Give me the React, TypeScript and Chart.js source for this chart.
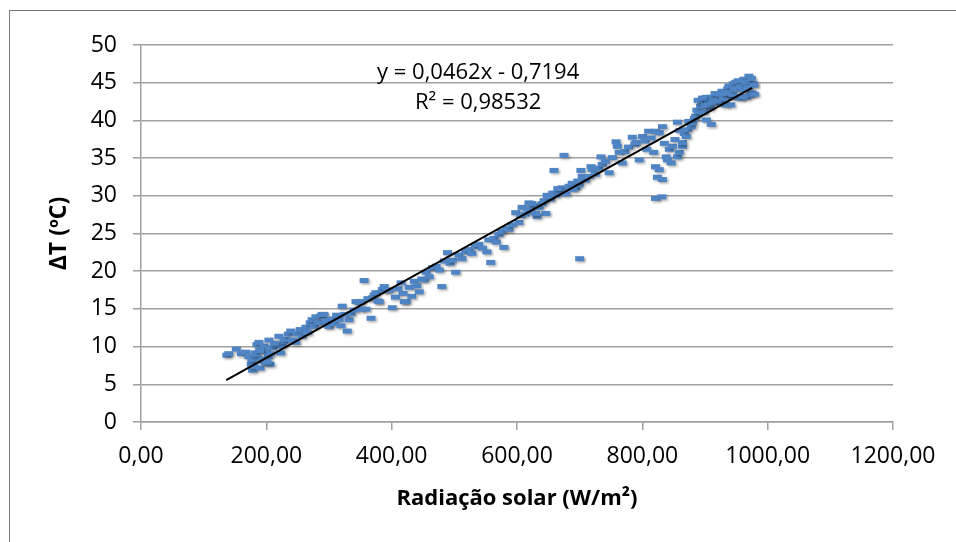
import React, { useEffect, useRef } from "react";
import { Chart, registerables } from "chart.js";

Chart.register(...registerables);

// Radiação solar (W/m²)
const radX = [
  137, 140, 152, 160, 167, 172, 176, 177, 178, 180, 182, 185, 186, 188, 190, 192, 194, 196, 199, 200,
  203, 204, 206, 210, 215, 220, 223, 225, 228, 231, 235, 239, 242, 247, 250, 254, 257, 260, 263, 266,
  270, 273, 276, 279, 282, 284, 287, 289, 292, 295, 298, 300, 304, 308, 312, 316, 319, 321, 325, 329,
  332, 335, 340, 343, 348, 351, 351, 356, 359, 362, 367, 369, 372, 375, 378, 380, 385, 388, 392, 396,
  401, 406, 410, 415, 418, 420, 423, 428, 432, 436, 440, 444, 448, 452, 455, 460, 465, 471, 476, 480,
  484, 489, 493, 497, 502, 507, 512, 518, 523, 528, 533, 539, 545, 552, 555, 558, 563, 567, 571, 575,
  579, 583, 587, 592, 598, 603, 606, 608, 613, 619, 622, 627, 632, 635, 640, 646, 648, 653, 657, 659,
  662, 667, 672, 675, 678, 683, 688, 694, 699, 700, 702, 704, 709, 715, 718, 720, 725, 730, 734, 736,
  741, 747, 752, 758, 760, 763, 768, 772, 778, 784, 788, 790, 795, 800, 804, 807, 810, 814, 818, 821,
  821, 824, 821, 827, 827, 831, 832, 832, 835, 838, 840, 843, 846, 848, 852, 856, 856, 859, 860, 864,
  864, 867, 870, 872, 874, 878, 880, 883, 885, 887, 890, 893, 895, 898, 902, 902, 905, 908, 910, 911,
  914, 918, 922, 925, 927, 930, 933, 936, 938, 941, 943, 945, 949, 951, 954, 957, 959, 962, 964, 966,
  968, 970, 972, 975, 977, 979, 889, 896, 900, 906, 912, 916, 920, 924, 929, 934, 939, 944, 947, 953,
  956, 960, 965, 969, 974, 978, 183, 189, 195, 201, 207, 213, 617, 624, 630, 643, 651, 665, 689, 697,
];

// ΔT (ºC)
const deltaT = [
  8.8, 9.0, 9.6, 9.0, 9.2, 8.6, 7.6, 8.2, 6.8, 7.3, 9.1, 10.2, 8.4, 10.5, 7.1, 9.5, 8.0, 10.0, 7.8, 9.3,
  8.6, 10.8, 7.6, 9.8, 10.2, 11.3, 9.1, 10.0, 10.6, 10.9, 11.6, 12.0, 10.8, 10.5, 11.6, 12.2, 11.3, 12.0, 12.5, 11.8,
  13.1, 13.5, 12.6, 13.9, 13.2, 13.1, 14.0, 14.2, 14.2, 13.4, 12.8, 12.6, 13.6, 13.0, 14.1, 13.5, 12.7, 15.3, 14.2, 12.0,
  13.5, 14.3, 14.8, 15.9, 15.8, 14.9, 15.9, 18.7, 14.9, 16.3, 13.7, 16.4, 16.8, 17.1, 16.0, 15.9, 17.5, 17.9, 17.4, 17.4,
  15.1, 16.5, 17.6, 18.4, 17.0, 15.9, 15.9, 17.8, 16.6, 18.6, 18.0, 17.2, 18.9, 18.8, 19.8, 19.2, 20.4, 20.6, 20.1, 17.9,
  21.3, 22.4, 21.0, 21.4, 19.8, 22.1, 21.6, 22.5, 22.8, 22.3, 23.2, 23.5, 23.0, 22.5, 24.1, 21.1, 24.3, 23.8, 24.8, 25.2,
  23.1, 25.6, 25.5, 26.1, 27.7, 26.4, 27.3, 28.4, 27.5, 29.0, 27.9, 28.6, 27.2, 28.4, 28.9, 27.6, 30.0, 29.5, 30.3, 33.3,
  30.0, 30.4, 31.0, 35.3, 30.2, 31.2, 31.6, 31.0, 31.4, 21.6, 33.3, 32.5, 32.0, 32.5, 33.8, 33.4, 32.8, 33.6, 35.1, 34.1,
  34.5, 33.0, 35.0, 37.1, 36.5, 35.7, 34.3, 35.8, 36.4, 37.7, 36.8, 37.0, 34.7, 37.8, 37.2, 36.1, 38.5, 37.6, 35.7, 38.5,
  33.8, 32.4, 29.6, 33.4, 38.3, 29.8, 32.1, 39.1, 36.9, 35.1, 34.7, 36.1, 34.3, 36.5, 37.4, 35.1, 39.7, 35.7, 38.6, 36.5,
  37.0, 38.2, 37.8, 38.7, 39.8, 39.1, 39.6, 40.2, 40.5, 41.3, 41.1, 41.8, 42.3, 41.0, 40.0, 43.0, 42.5, 41.6, 39.4, 43.0,
  42.4, 42.8, 43.1, 42.2, 43.8, 43.2, 42.0, 44.1, 44.5, 42.0, 43.0, 44.8, 45.0, 43.1, 44.2, 42.9, 43.1, 45.4, 44.6, 43.0,
  45.1, 45.8, 43.3, 43.6, 44.8, 43.4, 42.6, 42.9, 41.9, 42.0, 42.3, 43.5, 42.5, 43.4, 42.8, 43.5, 43.6, 43.4, 44.1, 45.2,
  44.4, 44.0, 45.0, 44.3, 45.5, 44.6, 8.9, 9.4, 8.3, 7.9, 9.0, 10.4, 28.2, 28.9, 27.6, 29.3, 29.8, 30.9, 30.8, 31.9,
];

// Linear trendline end points (y = 0,0462x - 0,7194)
const trendX = [136, 975];
const trendY = [5.56, 44.32];

const equationText = "y = 0,0462x - 0,7194";
const r2Text = "R² = 0,98532";
const xTitle = "Radiação solar (W/m²)";
const yTitle = "ΔT (ºC)";

const FONT = "'Open Sans', 'Liberation Sans', sans-serif";

function makeMarker(): HTMLCanvasElement {
  const c = document.createElement("canvas");
  c.width = 15;
  c.height = 12;
  const ctx = c.getContext("2d")!;
  ctx.shadowColor = "rgba(0,0,0,0.35)";
  ctx.shadowBlur = 2.5;
  ctx.shadowOffsetX = 1.5;
  ctx.shadowOffsetY = 1.5;
  ctx.fillStyle = "#4f85c4";
  ctx.fillRect(3, 3, 9, 5);
  return c;
}

export default function App() {
  const ref = useRef<HTMLCanvasElement | null>(null);

  useEffect(() => {
    document.body.style.overflow = "hidden";
    document.documentElement.style.overflow = "hidden";
    const canvas = ref.current!;
    const marker = makeMarker();

    const labelsPlugin = {
      id: "eqLabels",
      afterDatasetsDraw(chart: any) {
        const { ctx, scales } = chart;
        const x = scales.x.getPixelForValue(538);
        ctx.save();
        ctx.fillStyle = "#000";
        ctx.font = `22px ${FONT}`;
        ctx.textAlign = "center";
        ctx.textBaseline = "middle";
        ctx.fillText(equationText, x, scales.y.getPixelForValue(46.3));
        ctx.fillText(r2Text, x, scales.y.getPixelForValue(42.3));
        ctx.restore();
      },
    };

    const chart = new Chart(canvas, {
      type: "scatter",
      data: {
        datasets: [
          {
            label: "Linear",
            data: trendX.map((x, i) => ({ x, y: trendY[i] })),
            showLine: true,
            borderColor: "#000",
            borderWidth: 2,
            pointRadius: 0,
            order: 0,
          },
          {
            label: "ΔT",
            data: radX.map((x, i) => ({ x, y: deltaT[i] })),
            pointStyle: marker as any,
            pointRadius: 4,
            backgroundColor: "#4f85c4",
            borderWidth: 0,
            order: 1,
          },
        ],
      },
      options: {
        animation: false,
        responsive: false,
        layout: { padding: { left: 0, right: 62, top: 34, bottom: 0 } },
        plugins: {
          legend: { display: false },
          tooltip: { enabled: false },
        },
        scales: {
          x: {
            type: "linear",
            min: 0,
            max: 1200,
            afterFit(scale: any) {
              scale.height = 120;
            },
            ticks: {
              stepSize: 200,
              padding: 13,
              color: "#000",
              font: { family: FONT, size: 23 },
              callback: (v: any) => Number(v).toFixed(2).replace(".", ","),
            },
            grid: {
              drawOnChartArea: false,
              drawTicks: true,
              tickLength: 8,
              color: "#a0a0a0",
              lineWidth: 1.5,
            },
            border: { color: "#a0a0a0", width: 1.5 },
            title: {
              display: true,
              text: xTitle,
              color: "#000",
              font: { family: FONT, size: 22, weight: "bold" },
              padding: { top: 0, bottom: 30 },
            },
          },
          y: {
            min: 0,
            max: 50,
            afterFit(scale: any) {
              scale.width = 131;
            },
            ticks: {
              stepSize: 5,
              padding: 16,
              color: "#000",
              font: { family: FONT, size: 23 },
            },
            grid: {
              drawTicks: true,
              tickLength: 8,
              color: "#a0a0a0",
              lineWidth: 1.5,
            },
            border: { color: "#a0a0a0", width: 1.5 },
            title: {
              display: true,
              text: yTitle,
              color: "#000",
              font: { family: FONT, size: 23, weight: "bold" },
              padding: { top: 36, bottom: 0 },
            },
          },
        },
      },
      plugins: [labelsPlugin],
    });

    return () => chart.destroy();
  }, []);

  return (
    <div
      style={{
        position: "fixed",
        left: 9,
        top: 10,
        width: 980,
        height: 580,
        border: "1px solid #7a7a7a",
        background: "#fff",
        boxSizing: "border-box",
      }}
    >
      <canvas ref={ref} width={945} height={531} style={{ display: "block", width: 945, height: 531 }} />
    </div>
  );
}
